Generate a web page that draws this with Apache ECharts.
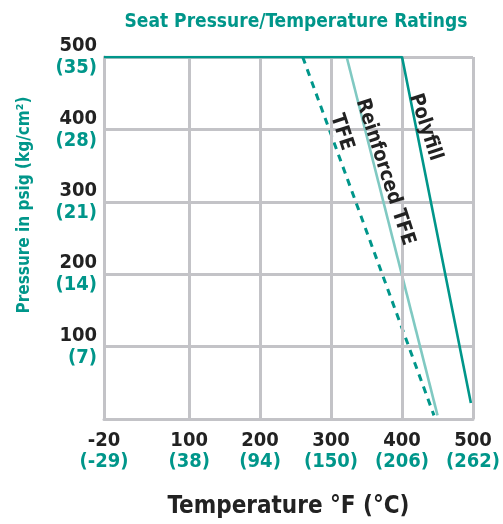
<!DOCTYPE html>
<html>
<head>
<meta charset="utf-8">
<script src="https://cdn.jsdelivr.net/npm/echarts@6/dist/echarts.min.js"></script>
<style>
html,body{margin:0;padding:0;background:#fff;}
#c{width:503px;height:524px;}
</style>
</head>
<body>
<div id="c"></div>
<script>
// Data
var xTicks = [-20, 100, 200, 300, 400, 500];
var xTicksC = ['-29', '38', '94', '150', '206', '262'];
var yTicks = [100, 200, 300, 400, 500];
var yTicksKg = ['7', '14', '21', '28', '35'];
var polyfill = [[-20, 500], [400, 500], [497, 22]];
var reinforcedTFE = [[322, 500], [450, 5]];
var tfe = [[260, 500], [445, 5]];
var seriesLabels = [
  {text: 'Polyfill', at: [433, 403]},
  {text: 'Reinforced TFE', at: [376, 341]},
  {text: 'TFE', at: [315, 396]}
];

var TEAL = '#00968a';
var LIGHT = '#80c9c2';
var GRID = '#c3c3c7';
var FONT = '"Liberation Sans Narrow", "DejaVu Sans Condensed", "Roboto", sans-serif';

var chart = echarts.init(document.getElementById('c'));
var option = {
  animation: false,
  title: {
    text: 'Seat Pressure/Temperature Ratings',
    left: 291, top: 8, textAlign: 'center',
    textStyle: {color: TEAL, fontFamily: FONT, fontWeight: 'bold', fontSize: 19}
  },
  grid: {left: 104, right: 27, top: 57, bottom: 105},
  xAxis: {
    type: 'value', min: -20, max: 500,
    name: 'Temperature °F (°C)', nameLocation: 'middle', nameGap: 76,
    nameTextStyle: {color: '#222', fontFamily: FONT, fontWeight: 'bold', fontSize: 24},
    axisLine: {show: true, onZero: false, lineStyle: {color: GRID, width: 3}},
    axisTick: {show: false},
    splitLine: {show: false},
    axisLabel: {
      customValues: xTicks, margin: 11,
      formatter: function (v) {
        var i = xTicks.indexOf(v);
        return '{a|' + v + '}\n{b|(' + xTicksC[i] + ')}';
      },
      rich: {
        a: {color: '#222', fontFamily: FONT, fontWeight: 'bold', fontSize: 20, lineHeight: 21},
        b: {color: TEAL, fontFamily: FONT, fontWeight: 'bold', fontSize: 20, lineHeight: 21}
      }
    }
  },
  yAxis: {
    type: 'value', min: 0, max: 500, interval: 100,
    axisLine: {show: true, onZero: false, lineStyle: {color: GRID, width: 3}},
    axisTick: {show: false},
    splitLine: {show: true, lineStyle: {color: GRID, width: 3}},
    axisLabel: {
      margin: 7, showMinLabel: false,
      formatter: function (v) {
        var i = yTicks.indexOf(v);
        if (i < 0) return '';
        return '{a|' + v + '}\n{b|(' + yTicksKg[i] + ')}';
      },
      rich: {
        a: {color: '#222', fontFamily: FONT, fontWeight: 'bold', fontSize: 20, lineHeight: 22, align: 'right'},
        b: {color: TEAL, fontFamily: FONT, fontWeight: 'bold', fontSize: 20, lineHeight: 22, align: 'right'}
      }
    }
  },
  series: [
    {name: 'grid', type: 'line', data: [], silent: true, z: 1,
     markLine: {
       silent: true, symbol: 'none', animation: false,
       label: {show: false},
       lineStyle: {color: GRID, width: 3, type: 'solid'},
       data: xTicks.map(function (v) { return {xAxis: v}; })
     }},
    {name: 'Polyfill', type: 'line', data: polyfill, symbol: 'none', z: 5,
     lineStyle: {color: TEAL, width: 2.6}},
    {name: 'Reinforced TFE', type: 'line', data: reinforcedTFE, symbol: 'none', z: 4,
     lineStyle: {color: LIGHT, width: 2.6}},
    {name: 'TFE', type: 'line', data: tfe, symbol: 'none', z: 4,
     lineStyle: {color: TEAL, width: 3, type: [7, 6]}}
  ]
};
chart.setOption(option);

var g = seriesLabels.map(function (l) {
  var p = chart.convertToPixel({gridIndex: 0}, l.at);
  return {
    type: 'text', x: p[0], y: p[1], rotation: -72 * Math.PI / 180, z: 10,
    style: {text: l.text, fill: '#222', font: 'bold 20px ' + FONT, align: 'center', verticalAlign: 'middle'}
  };
});
g.push({
  type: 'text', x: 25, y: 205, rotation: Math.PI / 2, z: 10,
  style: {text: 'Pressure in psig (kg/cm²)', fill: TEAL, font: 'bold 17px ' + FONT, align: 'center', verticalAlign: 'middle'}
});
chart.setOption({graphic: g});
</script>
</body>
</html>
